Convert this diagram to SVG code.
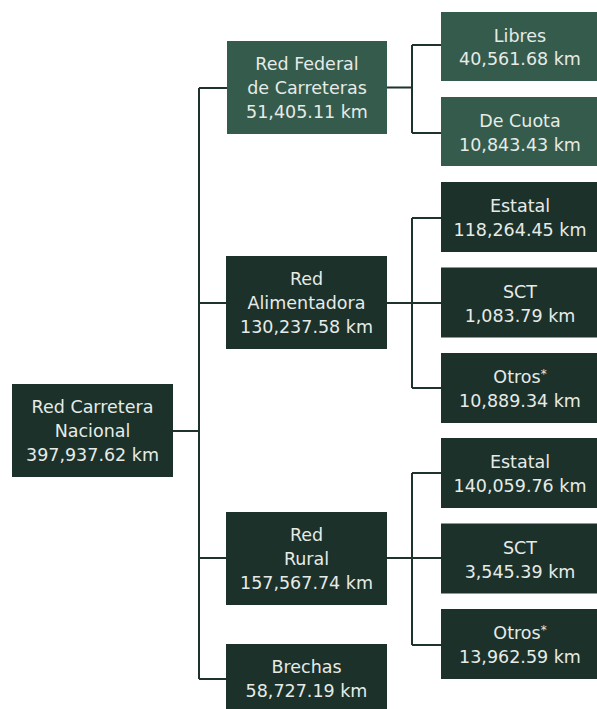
<svg xmlns="http://www.w3.org/2000/svg" width="597" height="709" viewBox="0 0 597 709">
<style>
.lt{fill:#345b4c}
.dk{fill:#1c3129}
text{font-family:"DejaVu Sans","Noto Sans",sans-serif;font-size:17.5px;fill:#e6ebe8;text-anchor:middle}
.c{fill:none;stroke:#1e3329;stroke-width:2}
.sup{font-size:12px}
</style>
<rect width="597" height="709" fill="#ffffff"/>
<g id="connectors">
<path class="c" d="M173 431H199M199 88V679M199 88H227M199 303H226M199 558H226M199 679H226"/>
<path class="c" d="M387 87.5H412M412 45V133M412 45H441M412 133H441"/>
<path class="c" d="M387 303H441M412 218V388M412 218H441M412 388H441"/>
<path class="c" d="M387 558H441M412 473V645M412 473H441M412 645H441"/>
</g>
<g id="root"><rect class="dk" x="12" y="384" width="161" height="93"/><text x="92.5" y="413">Red Carretera</text><text x="92.5" y="437">Nacional</text><text x="92.5" y="461">397,937.62 km</text></g>
<g id="federal"><rect class="lt" x="227" y="41" width="160" height="93"/><text x="307" y="70">Red Federal</text><text x="307" y="94">de Carreteras</text><text x="307" y="118">51,405.11 km</text></g>
<g id="alimentadora"><rect class="dk" x="226" y="256" width="161" height="93"/><text x="306.5" y="285">Red</text><text x="306.5" y="309">Alimentadora</text><text x="306.5" y="333">130,237.58 km</text></g>
<g id="rural"><rect class="dk" x="226" y="512" width="161" height="93"/><text x="306.5" y="541">Red</text><text x="306.5" y="565">Rural</text><text x="306.5" y="589">157,567.74 km</text></g>
<g id="brechas"><rect class="dk" x="226" y="644" width="161" height="70"/><text x="306.5" y="673">Brechas</text><text x="306.5" y="697">58,727.19 km</text></g>
<g id="libres"><rect class="lt" x="441" y="12" width="160" height="69"/><text x="520" y="42">Libres</text><text x="520" y="65">40,561.68 km</text></g>
<g id="decuota"><rect class="lt" x="441" y="97" width="160" height="69"/><text x="520" y="127">De Cuota</text><text x="520" y="150.5">10,843.43 km</text></g>
<g id="estatal1"><rect class="dk" x="441" y="182" width="160" height="70"/><text x="520" y="212">Estatal</text><text x="520" y="236">118,264.45 km</text></g>
<g id="sct1"><rect class="dk" x="441" y="267.5" width="160" height="70"/><text x="520" y="297.5">SCT</text><text x="520" y="321.5">1,083.79 km</text></g>
<g id="otros1"><rect class="dk" x="441" y="353" width="160" height="70"/><text x="520" y="383">Otros<tspan class="sup" dy="-5">*</tspan></text><text x="520" y="407">10,889.34 km</text></g>
<g id="estatal2"><rect class="dk" x="441" y="438" width="160" height="70"/><text x="520" y="468">Estatal</text><text x="520" y="492">140,059.76 km</text></g>
<g id="sct2"><rect class="dk" x="441" y="523.5" width="160" height="70"/><text x="520" y="553.5">SCT</text><text x="520" y="577.5">3,545.39 km</text></g>
<g id="otros2"><rect class="dk" x="441" y="609" width="160" height="70"/><text x="520" y="639">Otros<tspan class="sup" dy="-5">*</tspan></text><text x="520" y="663">13,962.59 km</text></g>
</svg>
